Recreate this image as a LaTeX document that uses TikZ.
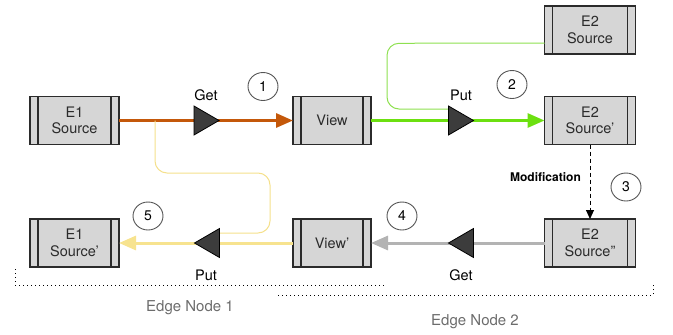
\documentclass[tikz,border=0pt]{standalone}
\usepackage{fontspec}
\setmainfont{TeX Gyre Heros}
\usetikzlibrary{arrows.meta,backgrounds,shapes.geometric}
\definecolor{boxfill}{HTML}{D6D6D6}
\definecolor{boxdraw}{HTML}{2B2B2B}
\definecolor{orangeln}{HTML}{C4580A}
\definecolor{greenln}{HTML}{6CE010}
\definecolor{greenthin}{HTML}{8EE050}
\definecolor{grayln}{HTML}{B3B3B3}
\definecolor{yellowln}{HTML}{F7E38F}
\definecolor{yellowthin}{HTML}{F5E08C}
\definecolor{trifill}{HTML}{3C3C3C}
\definecolor{circdraw}{HTML}{555555}
\definecolor{edgetext}{HTML}{6C6C6C}
\begin{document}
\begin{tikzpicture}[x=1pt,y=-1pt,
  srcbox/.style={rectangle, draw=boxdraw, fill=boxfill, line width=1.2pt,
    inner sep=0pt, outer sep=0pt, minimum height=48pt, align=center,
    text=boxdraw, font=\fontsize{14.5}{16.5}\selectfont,
    path picture={\draw[line width=1.2pt, boxdraw]
      ([xshift=8pt]path picture bounding box.north west) -- ([xshift=8pt]path picture bounding box.south west)
      ([xshift=-8pt]path picture bounding box.north east) -- ([xshift=-8pt]path picture bounding box.south east);}},
  tri/.style={draw=black, fill=trifill, line width=0.8pt, line join=miter},
  lbl/.style={font=\fontsize{14.5}{16.5}\selectfont, text=black, inner sep=0pt},
  numc/.style={ellipse, draw=circdraw, line width=0.9pt, minimum width=30pt, minimum height=28pt,
    inner sep=0pt, font=\fontsize{14}{16}\selectfont},
  thick line/.style={line width=3pt, -{Triangle[length=17pt,width=14pt]}},
  dotline/.style={line width=1pt, dash pattern=on 1pt off 3pt, black},
  edgelbl/.style={font=\fontsize{15}{17}\selectfont, text=edgetext, inner sep=0pt}
]
\useasboundingbox (0,0) rectangle (673,335);

% boxes
\node[srcbox, minimum width=89pt] (E1src) at (74.5,120.5) {E1\\Source};
\node[srcbox, minimum width=78pt] (view) at (332,120.5) {View};
\node[srcbox, minimum width=91pt] (E2src) at (590,30) {E2\\Source};
\node[srcbox, minimum width=91pt] (E2p) at (590,120.5) {E2\\Source'};
\node[srcbox, minimum width=91pt] (E2pp) at (590,243) {E2\\Source''};
\node[srcbox, minimum width=78pt] (viewp) at (332,243) {View'};
\node[srcbox, minimum width=89pt] (E1p) at (74.5,243) {E1\\Source'};

% triangle apexes
\coordinate (getA) at (219,120.5);
\coordinate (putA) at (473.5,120.5);
\coordinate (getB) at (448.5,243);
\coordinate (putB) at (194.5,243);

% labels
\node[lbl] (lgetA) at (206,95) {Get};
\node[lbl] (lputA) at (461,95) {Put};
\node[lbl] (lgetB) at (461,275) {Get};
\node[lbl] (lputB) at (206,275) {Put};
\node[font=\bfseries\fontsize{12}{14}\selectfont, inner sep=0pt] (mod) at (545.5,177.5) {Modification};

% numbers
\node[numc] (n1) at (263,86.5) {1};
\node[numc] (n2) at (512,84.5) {2};
\node[numc] (n3) at (626,187) {3};
\node[numc] (n4) at (402,216) {4};
\node[numc] (n5) at (148,216) {5};

% edge node labels
\node[edgelbl] (en1) at (190,308) {Edge Node 1};
\node[edgelbl] (en2) at (475,322) {Edge Node 2};

% connectors
\draw[thick line, orangeln] (E1src.east) -- (view.west);
\draw[thick line, greenln] (view.east) -- (E2p.west);
\draw[thick line, grayln] (E2pp.west) -- (viewp.east);
\draw[thick line, yellowln] (viewp.west) -- (E1p.east);
\draw[greenthin, line width=1pt, rounded corners=12pt]
  ([yshift=-13pt]E2src.west) -- (387,43.3) -- (387,109) -- ([xshift=-25pt,yshift=11.5pt]putA);
\draw[yellowthin, line width=1pt, rounded corners=12pt]
  ([xshift=36pt]E1src.east) -- (155,173) -- (270,173) -- (270,233) -- ([xshift=25pt,yshift=10pt]putB);

% triangles
\draw[tri] (getA) -- ++(-25,-14.5) -- ++(0,29) -- cycle;
\draw[tri] (putA) -- ++(-25,-14.5) -- ++(0,29) -- cycle;
\draw[tri] (getB) -- ++(25,-14.5) -- ++(0,29) -- cycle;
\draw[tri] (putB) -- ++(25,-14.5) -- ++(0,29) -- cycle;

\draw[black, line width=1pt, dash pattern=on 4pt off 3pt, -{Triangle[length=9pt,width=8pt]}] (E2p.south) -- (E2pp.north);

\draw[dotline] (15,269) -- (15,285) -- (387,285);
\draw[dotline] (278,295) -- (653,295) -- (653,282);
\end{tikzpicture}
\end{document}
